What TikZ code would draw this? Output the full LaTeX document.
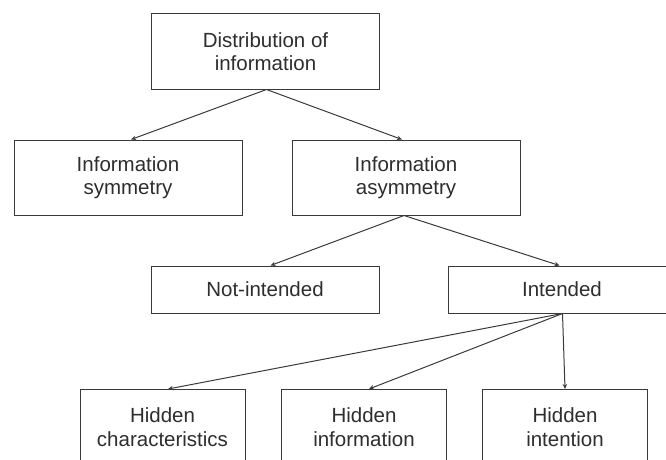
\documentclass[tikz,border=0pt]{standalone}
\usepackage{fontspec}
\setmainfont{Liberation Sans}
\usetikzlibrary{arrows.meta}
\definecolor{linec}{HTML}{3A3A3A}
\definecolor{textc}{HTML}{2E2E2E}
\begin{document}
\begin{tikzpicture}[x=1pt,y=-1pt,
  box/.style={draw=linec, line width=1pt, fill=white, text=textc, align=center,
    inner sep=0pt, font=\fontsize{20.5}{23.5}\selectfont},
  bigbox/.style={box, minimum width=228pt, minimum height=75pt},
  flatbox/.style={box, minimum width=228pt, minimum height=47pt},
  smallbox/.style={box, minimum width=165pt, minimum height=75pt},
  conn/.style={draw=linec, line width=1pt, -{Stealth[length=5pt,width=4.5pt]}}]
\useasboundingbox (0,0) rectangle (666,460);
\clip (0,0) rectangle (666,460);
\node[bigbox] (top) at (265.5,51.5) {Distribution of\\information};
\node[bigbox] (sym) at (128,177.5) {Information\\symmetry};
\node[bigbox] (asym) at (406,177.5) {Information\\asymmetry};
\node[flatbox] (notint) at (265,289.5) {Not-intended};
\node[flatbox] (int) at (562,289.5) {Intended};
\node[smallbox] (hc) at (162.5,427) {Hidden\\characteristics};
\node[smallbox] (hi) at (364,427) {Hidden\\information};
\node[smallbox] (hint) at (565,427) {Hidden\\intention};
\draw[conn] ([xshift=1pt]top.south) -- ([xshift=3pt]sym.north);
\draw[conn] ([xshift=1pt]top.south) -- ([xshift=-4pt]asym.north);
\draw[conn] ([xshift=-2pt]asym.south) -- ([xshift=5.5pt]notint.north);
\draw[conn] ([xshift=-2pt]asym.south) -- ([xshift=-2.5pt]int.north);
\draw[conn] ([xshift=0.5pt]int.south) -- ([xshift=5.5pt]hc.north);
\draw[conn] ([xshift=0.5pt]int.south) -- ([xshift=5pt]hi.north);
\draw[conn] ([xshift=0.5pt]int.south) -- (hint.north);
\end{tikzpicture}
\end{document}
